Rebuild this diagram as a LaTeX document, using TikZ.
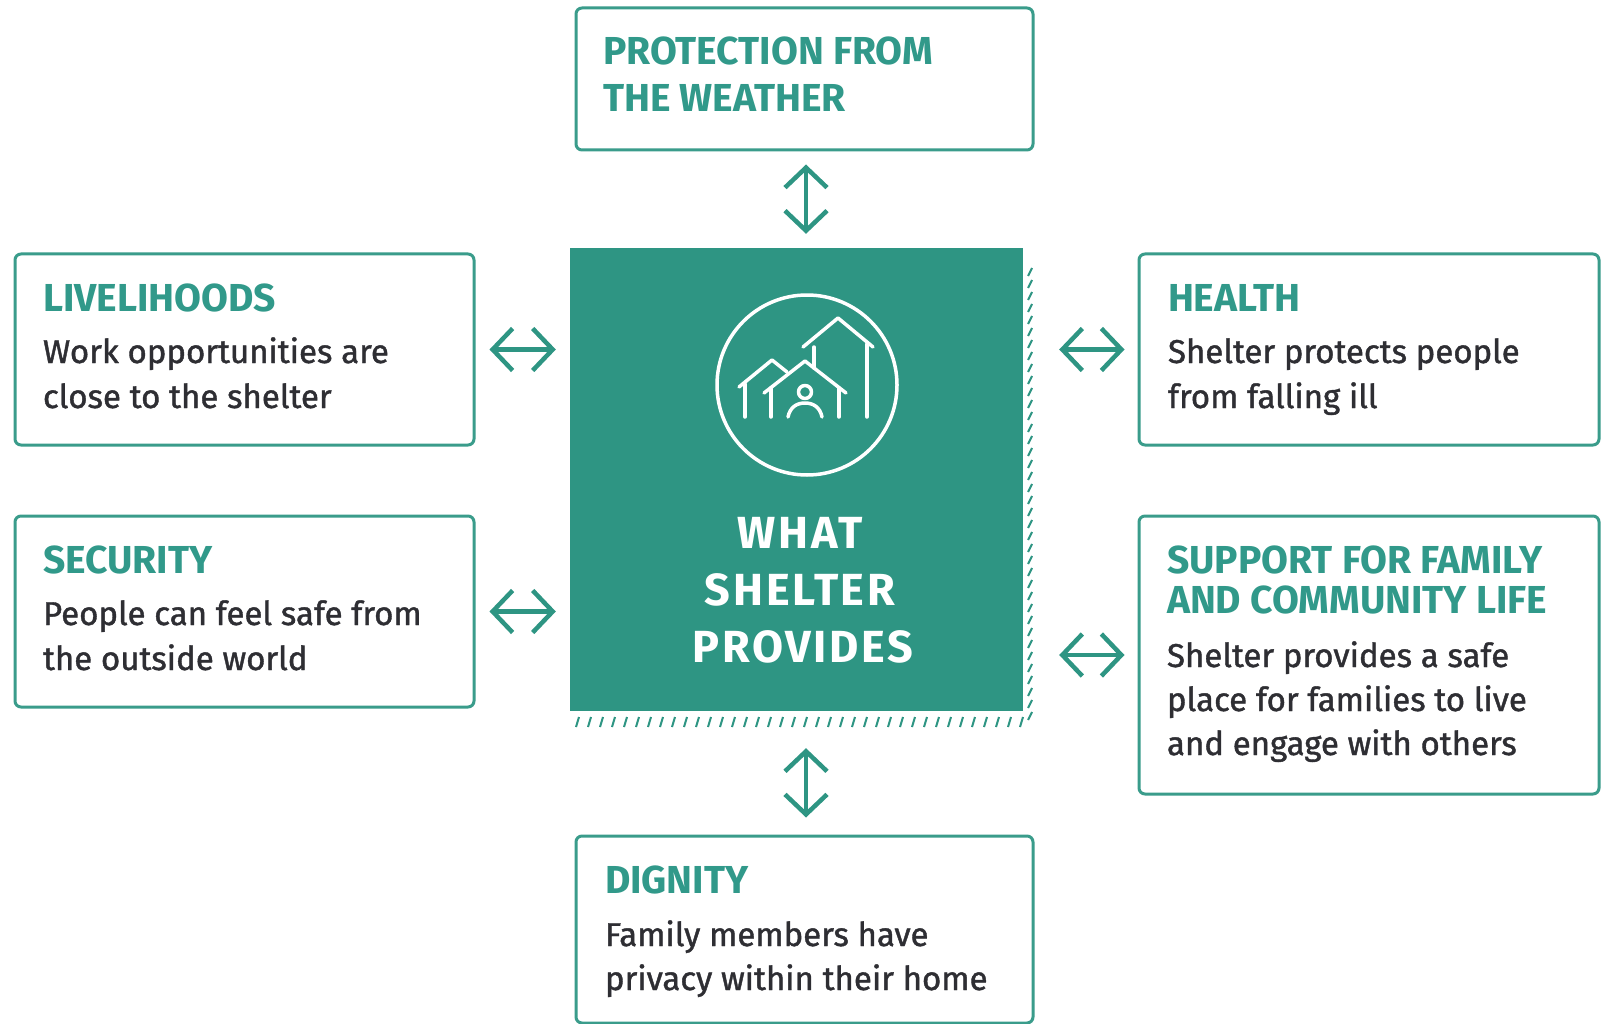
\documentclass[tikz,border=0pt]{standalone}
\usepackage{fontspec}
\setmainfont{Fira Sans}
\newfontfamily\bodyfam{Fira Sans}[FakeBold=1.2]
\newfontfamily\corefam{Fira Sans Bold}[LetterSpace=6]
\usetikzlibrary{arrows.meta}
\definecolor{shelter}{HTML}{2E9583}
\definecolor{titlec}{HTML}{31998A}
\definecolor{bodyc}{HTML}{2E2E33}
\definecolor{framec}{HTML}{3A9C8B}
\newcommand\boxtitle{\fontsize{39}{40}\selectfont\bfseries\color{titlec}}
\newcommand\boxbody{\bodyfam\fontsize{33}{44}\selectfont\color{bodyc}}
\newcommand\coretext{\corefam\fontsize{45}{57}\selectfont\color{white}}
\tikzset{
  frame/.style={draw=framec, line width=3pt, rounded corners=6pt, inner sep=0pt},
  txt/.style={anchor=base west, inner sep=0pt, outer sep=0pt},
  link/.style={draw=shelter, line width=4.5pt, line cap=round,
     {Straight Barb[length=20pt,width=42pt]}-{Straight Barb[length=20pt,width=42pt]}},
  hatch/.style={draw=shelter, line width=2pt},
  icon/.style={draw=white, line width=3.5pt, line cap=round, line join=round}
}
\begin{document}
\begin{tikzpicture}[x=1pt,y=-1pt]
\useasboundingbox[fill=white] (0,0) rectangle (1611,1024);

% boxes
\node[frame, minimum width=457pt, minimum height=142pt] (weather) at (804.5,79) {};
\node[frame, minimum width=459pt, minimum height=191pt] (live) at (244.5,349.5) {};
\node[frame, minimum width=459pt, minimum height=191pt] (secu) at (244.5,611.5) {};
\node[frame, minimum width=460pt, minimum height=191pt] (health) at (1369,349.5) {};
\node[frame, minimum width=460pt, minimum height=278pt] (family) at (1369,655) {};
\node[frame, minimum width=457pt, minimum height=187pt] (dignity) at (804.5,929.5) {};

% hatched shadow
\foreach \x in {576,588,...,1024} \draw[hatch] (\x,727) -- (\x+3,717);
\foreach \y in {268,280,...,716} \draw[hatch] (1028,\y+8) -- (1032,\y);

% central box
\node[fill=shelter, minimum width=453pt, minimum height=463pt, inner sep=0pt] (core) at (796.5,479.5) {};

% icon
\draw[icon] (807,385) circle (90);
\draw[icon] (739,387) -- (772,360) -- (787,372);
\draw[icon] (745,384) -- (745,417);
\draw[icon] (764,393) -- (805,361) -- (846,393);
\draw[icon] (771,388) -- (771,417);
\draw[icon] (839,388) -- (839,417);
\draw[icon] (805,392) circle (6.5);
\draw[icon] (788,417) .. controls (790,407) and (797,403) .. (805,403)
   .. controls (813,403) and (820,407) .. (822,417);
\draw[icon] (803,347) -- (838,318) -- (873,347);
\draw[icon] (814,347) -- (814,368);
\draw[icon] (867,344) -- (867,417);

% central text
\node[anchor=base, inner sep=0pt] (c1) at (800,548) {\coretext WHAT};
\node[anchor=base, inner sep=0pt] (c2) at (800,605) {\coretext SHELTER};
\node[anchor=base, inner sep=0pt] (c3) at (803,662) {\coretext PROVIDES};

% texts
\node[txt] (w1) at (603,65) {\boxtitle PROTECTION FROM};
\node[txt] (w2) at (603,112) {\boxtitle THE WEATHER};

\node[txt] (l1) at (43,311) {\boxtitle LIVELIHOODS};
\node[txt] (l2) at (43,363) {\boxbody Work opportunities are};
\node[txt] (l3) at (43,408) {\boxbody close to the shelter};

\node[txt] (s1) at (43,573) {\boxtitle SECURITY};
\node[txt] (s2) at (43,625) {\boxbody People can feel safe from};
\node[txt] (s3) at (43,670) {\boxbody the outside world};

\node[txt] (h1) at (1168,311) {\boxtitle HEALTH};
\node[txt] (h2) at (1168,363) {\boxbody Shelter protects people};
\node[txt] (h3) at (1168,408) {\boxbody from falling ill};

\node[txt] (f1) at (1167,573) {\boxtitle SUPPORT FOR FAMILY};
\node[txt] (f2) at (1167,613) {\boxtitle AND COMMUNITY LIFE};
\node[txt] (f3) at (1167,667) {\boxbody Shelter provides a safe};
\node[txt] (f4) at (1167,711) {\boxbody place for families to live};
\node[txt] (f5) at (1167,755) {\boxbody and engage with others};

\node[txt] (d1) at (605,893) {\boxtitle DIGNITY};
\node[txt] (d2) at (605,946) {\boxbody Family members have};
\node[txt] (d3) at (605,990) {\boxbody privacy within their home};

% connectors
\draw[link, shorten <=13pt, shorten >=14pt] (weather.south -| 806,0) -- (core.north -| 806,0);
\draw[link, shorten <=37pt, shorten >=17pt] (core.south -| 806,0) -- (dignity.north -| 806,0);
\draw[link, shorten <=14pt, shorten >=14pt] (live.east) -- (core.west |- live.east);
\draw[link, shorten <=14pt, shorten >=14pt] (secu.east) -- (core.west |- secu.east);
\draw[link, shorten <=36pt, shorten >=13pt] (core.east |- health.west) -- (health.west);
\draw[link, shorten <=36pt, shorten >=13pt] (core.east |- family.west) -- (family.west);
\end{tikzpicture}
\end{document}
